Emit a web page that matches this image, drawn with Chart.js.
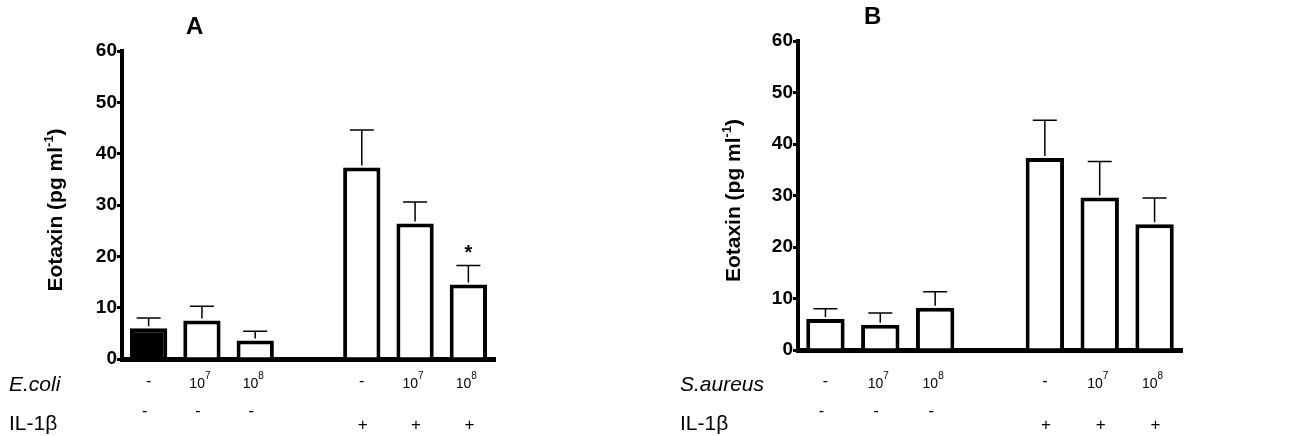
<!DOCTYPE html>
<html><head><meta charset="utf-8">
<script src="https://cdn.jsdelivr.net/npm/chart.js@4"></script>
<style>body{margin:0;background:#fff;width:1296px;height:436px;position:relative;overflow:hidden}
canvas{position:absolute;top:0}</style></head>
<body>
<div style="position:absolute;left:0;top:0;width:650px;height:436px"><canvas id="a"></canvas></div>
<div style="position:absolute;left:660px;top:0;width:636px;height:436px"><canvas id="b"></canvas></div>
<script>
const categories = ['c1','c2','c3','gap','c5','c6','c7'];
const valuesA = [6, 7.5, 3.6, null, 37.3, 26.4, 14.5];
const errorsA = [8, 10.3, 5.4, null, 44.6, 30.6, 18.2];
const valuesB = [6, 4.9, 8.2, null, 37.3, 29.6, 24.4];
const errorsB = [8, 7.2, 11.3, null, 44.6, 36.6, 29.5];
const bacteriaDose = ['-', '7', '8', '', '-', '7', '8'];
const il1bRow = ['-', '-', '-', '', '+', '+', '+'];
const sigA = ['', '', '', '', '', '', '*'];
const fillA = ['#000', '#fff', '#fff', '#fff', '#fff', '#fff', '#fff'];
const yTicks = [0, 10, 20, 30, 40, 50, 60];
const NF = '"Liberation Sans"';

function makeChart(id, cfg) {
  const plugin = {
    id: 'extras',
    afterDatasetsDraw(chart) {
      const c = chart.ctx, x = chart.scales.x, y = chart.scales.y;
      c.save();
      c.strokeStyle = '#000'; c.lineWidth = 1.5;
      cfg.values.forEach((v, i) => {
        if (v == null) return;
        const px = x.getPixelForValue(i), top = y.getPixelForValue(cfg.errors[i]), b = y.getPixelForValue(v);
        c.beginPath(); c.moveTo(px, b - 2); c.lineTo(px, top); c.moveTo(px - 12, top); c.lineTo(px + 12, top); c.stroke();
        if (cfg.sig && cfg.sig[i]) {
          c.fillStyle = '#000'; c.font = 'bold 20px ' + NF; c.textAlign = 'center';
          c.fillText(cfg.sig[i], px, top - 7);
        }
      });
      c.fillStyle = '#000';
      c.textAlign = 'center'; c.textBaseline = 'alphabetic';
      bacteriaDose.forEach((d, i) => {
        const px = x.getPixelForValue(i);
        if (d === '-') { c.font = '16px ' + NF; c.fillText('-', px, 386); }
        else if (d) {
          c.font = '14px ' + NF; c.textAlign = 'right'; c.fillText('10', px + 3, 388);
          c.font = '10px ' + NF; c.textAlign = 'left'; c.fillText(d, px + 3, 379);
          c.textAlign = 'center';
        }
        const s = il1bRow[i];
        if (s) { c.font = s === '+' ? '17px ' + NF : '16px ' + NF; c.fillText(s, px + (s === '+' ? 1 : -4), s === '+' ? 430 : 416); }
      });
      c.textAlign = 'left';
      c.font = 'italic 21px ' + NF; c.fillText(cfg.bug, cfg.rowX, 391);
      c.font = '21px ' + NF; c.fillText('IL-1β', cfg.rowX, 430);
      c.font = 'bold 24px ' + NF; c.fillText(cfg.letter, cfg.letterX, cfg.letterY);
      c.save(); c.translate(cfg.titleX, (y.top + y.bottom) / 2 + 5); c.rotate(-Math.PI / 2);
      const t1 = 'Eotaxin (pg ml', t2 = '-1', t3 = ')';
      c.font = 'bold 21px ' + NF; const w1 = c.measureText(t1).width, w3 = c.measureText(t3).width;
      c.font = 'bold 13px ' + NF; const w2 = c.measureText(t2).width;
      let sx = -(w1 + w2 + w3) / 2;
      c.textAlign = 'left';
      c.font = 'bold 21px ' + NF; c.fillText(t1, sx, 0);
      c.font = 'bold 13px ' + NF; c.fillText(t2, sx + w1, -9);
      c.font = 'bold 21px ' + NF; c.fillText(t3, sx + w1 + w2, 0);
      c.restore();
      c.restore();
    }
  };
  return new Chart(document.getElementById(id), {
    type: 'bar',
    data: { labels: categories, datasets: [{
      data: cfg.values, backgroundColor: cfg.fill, borderColor: '#000', borderWidth: 4,
      borderSkipped: 'bottom', categoryPercentage: 1, barPercentage: 0.7 }] },
    options: {
      responsive: true, maintainAspectRatio: false, animation: false,
      layout: { padding: { left: 0, right: cfg.padR, top: cfg.top, bottom: 0 } },
      plugins: { legend: { display: false }, tooltip: { enabled: false } },
      scales: {
        x: { grid: { display: false }, border: { color: '#000', width: 5 }, ticks: { display: false },
             afterFit: s => { s.height = 436 - cfg.bottom; } },
        y: { min: 0, max: 60, afterBuildTicks: s => { s.ticks = yTicks.map(v => ({ value: v })); },
             grid: { drawOnChartArea: false, color: '#000', lineWidth: 3, tickLength: 5 },
             border: { color: '#000', width: 4 },
             ticks: { color: '#000', font: { family: 'Liberation Sans', weight: 'bold', size: 19 }, padding: 0 },
             afterFit: s => { s.width = cfg.left; } }
      }
    },
    plugins: [plugin]
  });
}
makeChart('a', { values: valuesA, errors: errorsA, fill: fillA, sig: sigA, left: 122, padR: 155, top: 51, bottom: 359,
  bug: 'E.coli', rowX: 9, letter: 'A', letterX: 186, letterY: 34, titleX: 62 });
makeChart('b', { values: valuesB, errors: errorsB, fill: '#fff', sig: null, left: 138, padR: 114, top: 41, bottom: 350,
  bug: 'S.aureus', rowX: 20, letter: 'B', letterX: 204, letterY: 24, titleX: 80 });
</script></body></html>
